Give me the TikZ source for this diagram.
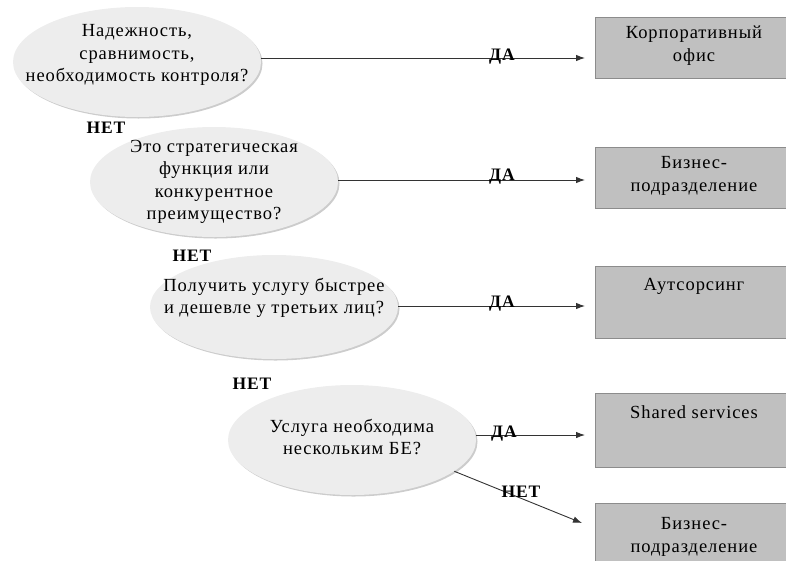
\documentclass[tikz,border=0pt]{standalone}
\usepackage{fontspec}
\setmainfont{Liberation Serif}[LetterSpace=5]
\usetikzlibrary{shapes.geometric,arrows.meta,shadows}
\definecolor{ellfill}{HTML}{EDEDED}
\definecolor{boxfill}{HTML}{C0C0C0}
\definecolor{boxedge}{HTML}{8C8C8C}
\definecolor{linec}{HTML}{333333}
\begin{document}
\begin{tikzpicture}[x=1pt,y=-1pt,
  question/.style={ellipse, fill=ellfill, draw=none, minimum width=248pt, minimum height=110pt, inner sep=0pt,
     drop shadow={shadow xshift=1.5pt, shadow yshift=-1.5pt, opacity=0.4, fill=gray}},
  qtext/.style={align=center, font=\fontsize{18.5}{22.5}\selectfont, inner sep=0pt},
  outbox/.style={rectangle, fill=boxfill, draw=boxedge, line width=0.8pt, anchor=north west, minimum width=200pt, inner sep=0pt},
  btext/.style={align=center, font=\fontsize{18.5}{23}\selectfont, inner sep=0pt, anchor=north},
  lbl/.style={font=\fontsize{17.5}{17.5}\selectfont\bfseries, inner sep=0pt},
  conn/.style={draw=linec, line width=0.9pt, -{Latex[length=9pt,width=6.5pt]}}
]
\useasboundingbox (0,0) rectangle (786,560);

% ellipses
\node[question] (e1) at (137,62) {};
\node[question] (e2) at (214,182) {};
\node[question, minimum height=104pt] (e3) at (274,307) {};
\node[question] (e4) at (352,440) {};

\node[qtext] (t1) at (137,55) {Надежность,\\сравнимость,\\необходимость контроля?};
\node[qtext] (t2) at (214,182) {Это стратегическая\\функция или\\конкурентное\\преимущество?};
\node[qtext] (t3) at (274,298) {Получить услугу быстрее\\и дешевле у третьих лиц?};
\node[qtext] (t4) at (352,437) {Услуга необходима\\нескольким БЕ?};

% boxes
\node[outbox, minimum height=61pt] (b1) at (595,17) {};
\node[outbox, minimum height=61pt] (b2) at (595,147) {};
\node[outbox, minimum height=72pt] (b3) at (595,266) {};
\node[outbox, minimum height=74pt] (b4) at (595,393) {};
\node[outbox, minimum height=70pt] (b5) at (595,503) {};

\node[btext] (bt1) at (694,26) {Корпоративный\\офис};
\node[btext] (bt2) at (694,156) {Бизнес-\\подразделение};
\node[btext] (bt3) at (694,278) {Аутсорсинг};
\node[btext] (bt4) at (694,405) {Shared services};
\node[btext] (bt5) at (694,517) {Бизнес-\\подразделение};

% connectors
\coordinate (a1) at (585,58);
\coordinate (a2) at (585,180);
\coordinate (a3) at (585,306);
\coordinate (a4) at (585,435);
\coordinate (a5) at (582,523);
\draw[conn] (e1.east |- a1) -- (a1);
\draw[conn] (e2.east |- a2) -- (a2);
\draw[conn] (e3.east |- a3) -- (a3);
\draw[conn] (e4.east |- a4) -- (a4);
\draw[conn] (e4.-17) -- (a5);

% labels
\node[lbl] (da1) at (502,57) {ДА};
\node[lbl] (da2) at (502,177) {ДА};
\node[lbl] (da3) at (502,304) {ДА};
\node[lbl] (da4) at (504,434) {ДА};
\node[lbl] (n1) at (106,128) {НЕТ};
\node[lbl] (n2) at (192,256) {НЕТ};
\node[lbl] (n3) at (252,384) {НЕТ};
\node[lbl] (n4) at (521,492) {НЕТ};
\end{tikzpicture}
\end{document}
